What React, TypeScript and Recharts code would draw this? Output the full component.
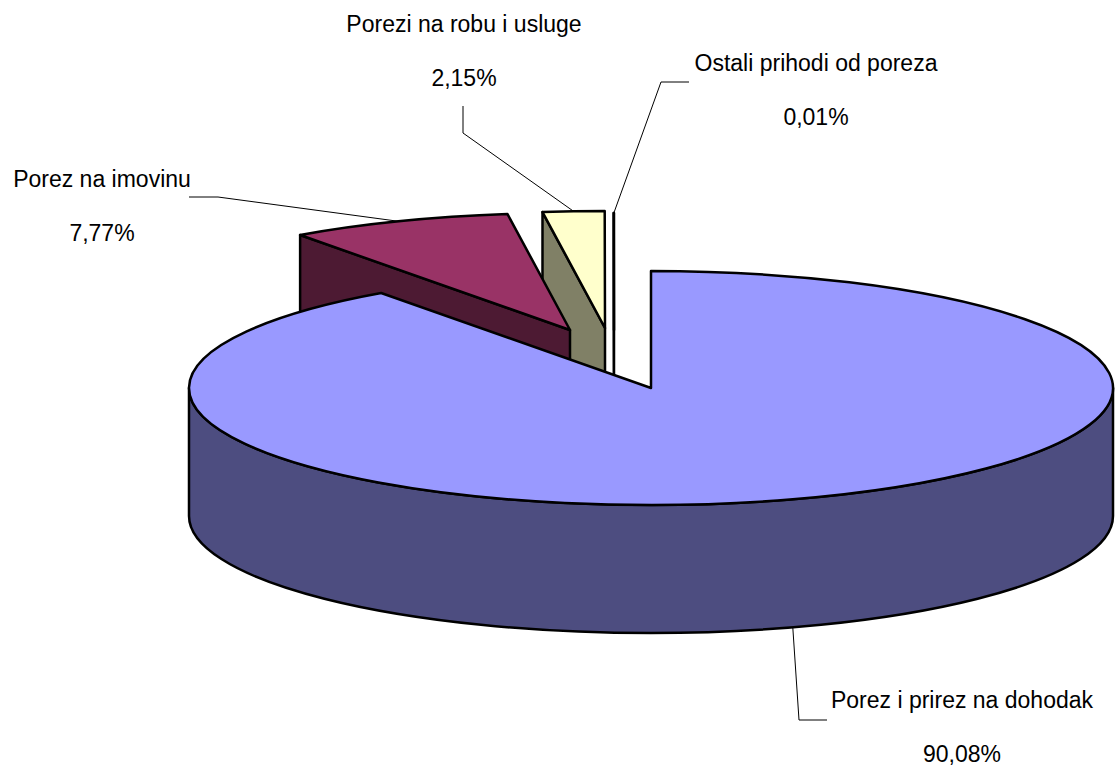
import React from 'react';
import { PieChart, Pie } from 'recharts';

// Data (drawing order: back slices first, main slice last)
const categories = [
  'Ostali prihodi od poreza',
  'Porezi na robu i usluge',
  'Porez na imovinu',
  'Porez i prirez na dohodak',
];
const shares = [0.01, 2.15, 7.77, 90.08];

const data = categories.map((name, i) => ({ name, value: shares[i] }));

// Styles / layout config (not data)
type SliceStyle = {
  top: string;
  side: string;
  explode: [number, number];
  labelX: number;
  labelY: number;
  leader: [number, number][];
};

const STYLE: Record<string, SliceStyle> = {
  'Ostali prihodi od poreza': {
    top: '#CCFFFF',
    side: '#668080',
    explode: [-37, -58],
    labelX: 816,
    labelY: 71,
    leader: [
      [661, 82],
      [689, 82],
    ],
  },
  'Porezi na robu i usluge': {
    top: '#FFFFCC',
    side: '#808066',
    explode: [-46, -60],
    labelX: 464,
    labelY: 32,
    leader: [
      [463, 133],
      [463, 106],
    ],
  },
  'Porez na imovinu': {
    top: '#993366',
    side: '#4D1A33',
    explode: [-81, -58],
    labelX: 102,
    labelY: 187,
    leader: [
      [218, 197],
      [189, 197],
    ],
  },
  'Porez i prirez na dohodak': {
    top: '#9999FF',
    side: '#4D4D80',
    explode: [0, 0],
    labelX: 962,
    labelY: 708,
    leader: [
      [799, 720],
      [827, 720],
    ],
  },
};

const DEPTH = 128;
const Y_RATIO = 117 / 462;
const FONT = '"Liberation Sans", Arial, sans-serif';
const FONT_SIZE = 23;
const STROKE_W = 2.5;

const rad = (a: number) => (a * Math.PI) / 180;
const pt = (cx: number, cy: number, rx: number, ry: number, a: number): [number, number] => [
  cx + rx * Math.cos(rad(a)),
  cy - ry * Math.sin(rad(a)),
];

const fmtPct = (v: number) => v.toFixed(2).replace('.', ',') + '%';

function getName(props: any): string {
  return (props.payload && props.payload.name) || props.name;
}

function Slice3D(props: any) {
  const { cx, cy, outerRadius, startAngle, endAngle } = props;
  const st = STYLE[getName(props)];
  if (!st) return null;
  const ox = cx + st.explode[0];
  const oy = cy + st.explode[1];
  const rx = outerRadius;
  const ry = outerRadius * Y_RATIO;
  const a0 = Math.min(startAngle, endAngle);
  const a1 = Math.max(startAngle, endAngle);
  const p0 = pt(ox, oy, rx, ry, a0);
  const p1 = pt(ox, oy, rx, ry, a1);
  const parts: React.ReactNode[] = [];

  // radial cut faces
  const cutFace = (a: number, normal: number, key: string) => {
    if (Math.sin(rad(normal)) < -1e-6) {
      const p = pt(ox, oy, rx, ry, a);
      parts.push(
        <path
          key={key}
          d={`M${ox},${oy} L${p[0]},${p[1]} L${p[0]},${p[1] + DEPTH} L${ox},${oy + DEPTH} Z`}
          fill={st.side}
          stroke="#000"
          strokeWidth={STROKE_W}
          strokeLinejoin="round"
        />
      );
    }
  };
  cutFace(a0, a0 - 90, 'f0');
  cutFace(a1, a1 + 90, 'f1');

  // outer wall (front half only)
  [
    [-180, 0],
    [180, 360],
    [540, 720],
  ].forEach(([f0, f1], i) => {
    const b0 = Math.max(a0, f0);
    const b1 = Math.min(a1, f1);
    if (b1 - b0 > 0.01) {
      const q0 = pt(ox, oy, rx, ry, b0);
      const q1 = pt(ox, oy, rx, ry, b1);
      parts.push(
        <path
          key={'w' + i}
          d={`M${q0[0]},${q0[1]} A${rx},${ry} 0 0 0 ${q1[0]},${q1[1]} L${q1[0]},${q1[1] + DEPTH} A${rx},${ry} 0 0 1 ${q0[0]},${q0[1] + DEPTH} Z`}
          fill={st.side}
          stroke="#000"
          strokeWidth={STROKE_W}
          strokeLinejoin="round"
        />
      );
    }
  });

  // top face
  const large = a1 - a0 > 180 ? 1 : 0;
  parts.push(
    <path
      key="top"
      d={`M${ox},${oy} L${p0[0]},${p0[1]} A${rx},${ry} 0 ${large} 0 ${p1[0]},${p1[1]} Z`}
      fill={st.top}
      stroke="#000"
      strokeWidth={STROKE_W}
      strokeLinejoin="round"
    />
  );
  return <g>{parts}</g>;
}

function SliceLabel(props: any) {
  const { cx, cy, outerRadius, midAngle, value } = props;
  const name = getName(props);
  const st = STYLE[name];
  if (!st) return null;
  const ox = cx + st.explode[0];
  const oy = cy + st.explode[1];
  const rx = outerRadius;
  const ry = outerRadius * Y_RATIO;
  const p = pt(ox, oy, rx, ry, midAngle);
  const front = Math.sin(rad(midAngle)) < 0;
  const start: [number, number] = front ? [p[0], p[1] + DEPTH] : p;
  const pts = [start, ...st.leader].map((q) => q.join(',')).join(' ');
  return (
    <g>
      <polyline points={pts} fill="none" stroke="#000" strokeWidth={1} />
      <text
        x={st.labelX}
        y={st.labelY}
        textAnchor="middle"
        fontFamily={FONT}
        fontSize={FONT_SIZE}
        fill="#000"
      >
        {name}
      </text>
      <text
        x={st.labelX}
        y={st.labelY + 54}
        textAnchor="middle"
        fontFamily={FONT}
        fontSize={FONT_SIZE}
        fill="#000"
      >
        {fmtPct(value)}
      </text>
    </g>
  );
}

export default function App() {
  return (
    <div
      style={{
        position: 'absolute',
        left: 0,
        top: 0,
        width: 1120,
        height: 769,
        background: '#fff',
      }}
    >
      <PieChart width={1120} height={769} margin={{ top: 0, right: 0, bottom: 0, left: 0 }}>
        <Pie
          data={data}
          dataKey="value"
          nameKey="name"
          cx={651}
          cy={388}
          innerRadius={0}
          outerRadius={462}
          startAngle={90}
          endAngle={450}
          stroke="none"
          isAnimationActive={false}
          shape={(p: any) => <Slice3D {...p} />}
          label={(p: any) => <SliceLabel {...p} />}
          labelLine={false}
        />
      </PieChart>
    </div>
  );
}
